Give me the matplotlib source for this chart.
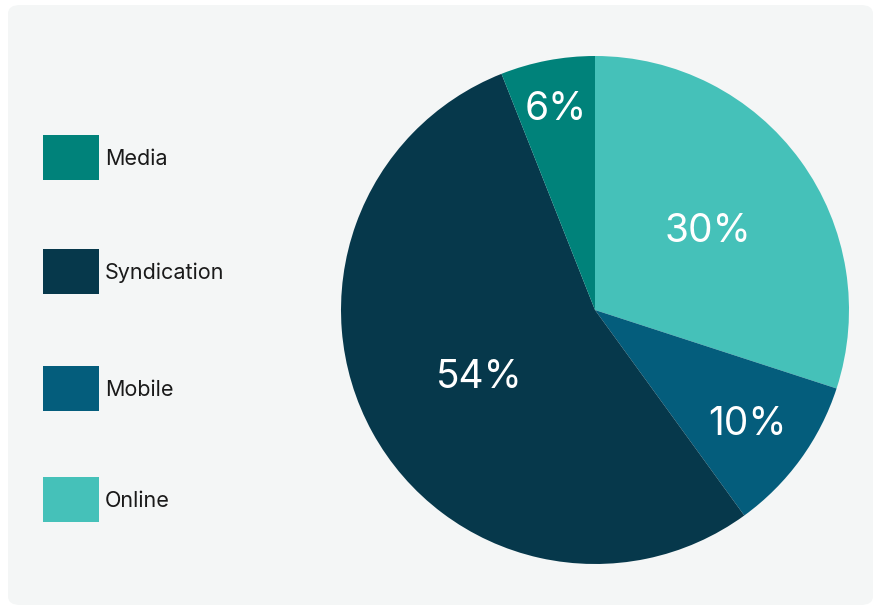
import matplotlib.pyplot as plt
from matplotlib.patches import FancyBboxPatch, Rectangle
import numpy as np

plt.rcParams['font.family'] = ['Inter', 'DejaVu Sans']

# revenue split, drawn clockwise from 12 o'clock
slices = ['Online', 'Mobile', 'Syndication', 'Media']
shares = [30, 10, 54, 6]
colors = ['#45c1b9', '#045d7c', '#06384b', '#00827a']
label_dist = [0.55, 0.74, 0.52, 0.82]

legend_order = ['Media', 'Syndication', 'Mobile', 'Online']

W, H = 875, 608
fig = plt.figure(figsize=(W / 100, H / 100), dpi=100, facecolor='white')

# rounded card behind everything
bg = FancyBboxPatch((8 / W, (H - 605) / H), (873 - 8) / W, (605 - 5) / H,
                    boxstyle='round,pad=0,rounding_size=0.014',
                    transform=fig.transFigure, facecolor='#f4f6f6',
                    edgecolor='none', zorder=-5)
fig.patches.append(bg)

cx, cy, r = 595, 310, 254
ax = fig.add_axes([(cx - r) / W, (H - cy - r) / H, 2 * r / W, 2 * r / H])
ax.set_zorder(3)
ax.patch.set_visible(False)
wedges, _ = ax.pie(shares, colors=colors, startangle=90, counterclock=False,
                   radius=1, wedgeprops=dict(linewidth=0))
ax.set_xlim(-1, 1)
ax.set_ylim(-1, 1)
ax.set_aspect('equal')
ax.axis('off')

for w, val, d in zip(wedges, shares, label_dist):
    ang = np.deg2rad((w.theta1 + w.theta2) / 2)
    ax.text(d * np.cos(ang), d * np.sin(ang), f'{val}%', color='white',
            fontsize=28, ha='center', va='center_baseline')

# legend: colour block + name
leg_tops = [135, 249, 366, 477]
for name, top in zip(legend_order, leg_tops):
    c = colors[slices.index(name)]
    fig.patches.append(Rectangle((43 / W, (H - top - 45) / H), 56 / W, 45 / H,
                                 transform=fig.transFigure, facecolor=c,
                                 edgecolor='none', zorder=1))
    fig.text(105 / W, (H - top - 24) / H, name, fontsize=15.5, color='#1a1a1a',
             ha='left', va='center')

fig.savefig('out.png', dpi=100, facecolor='white')
